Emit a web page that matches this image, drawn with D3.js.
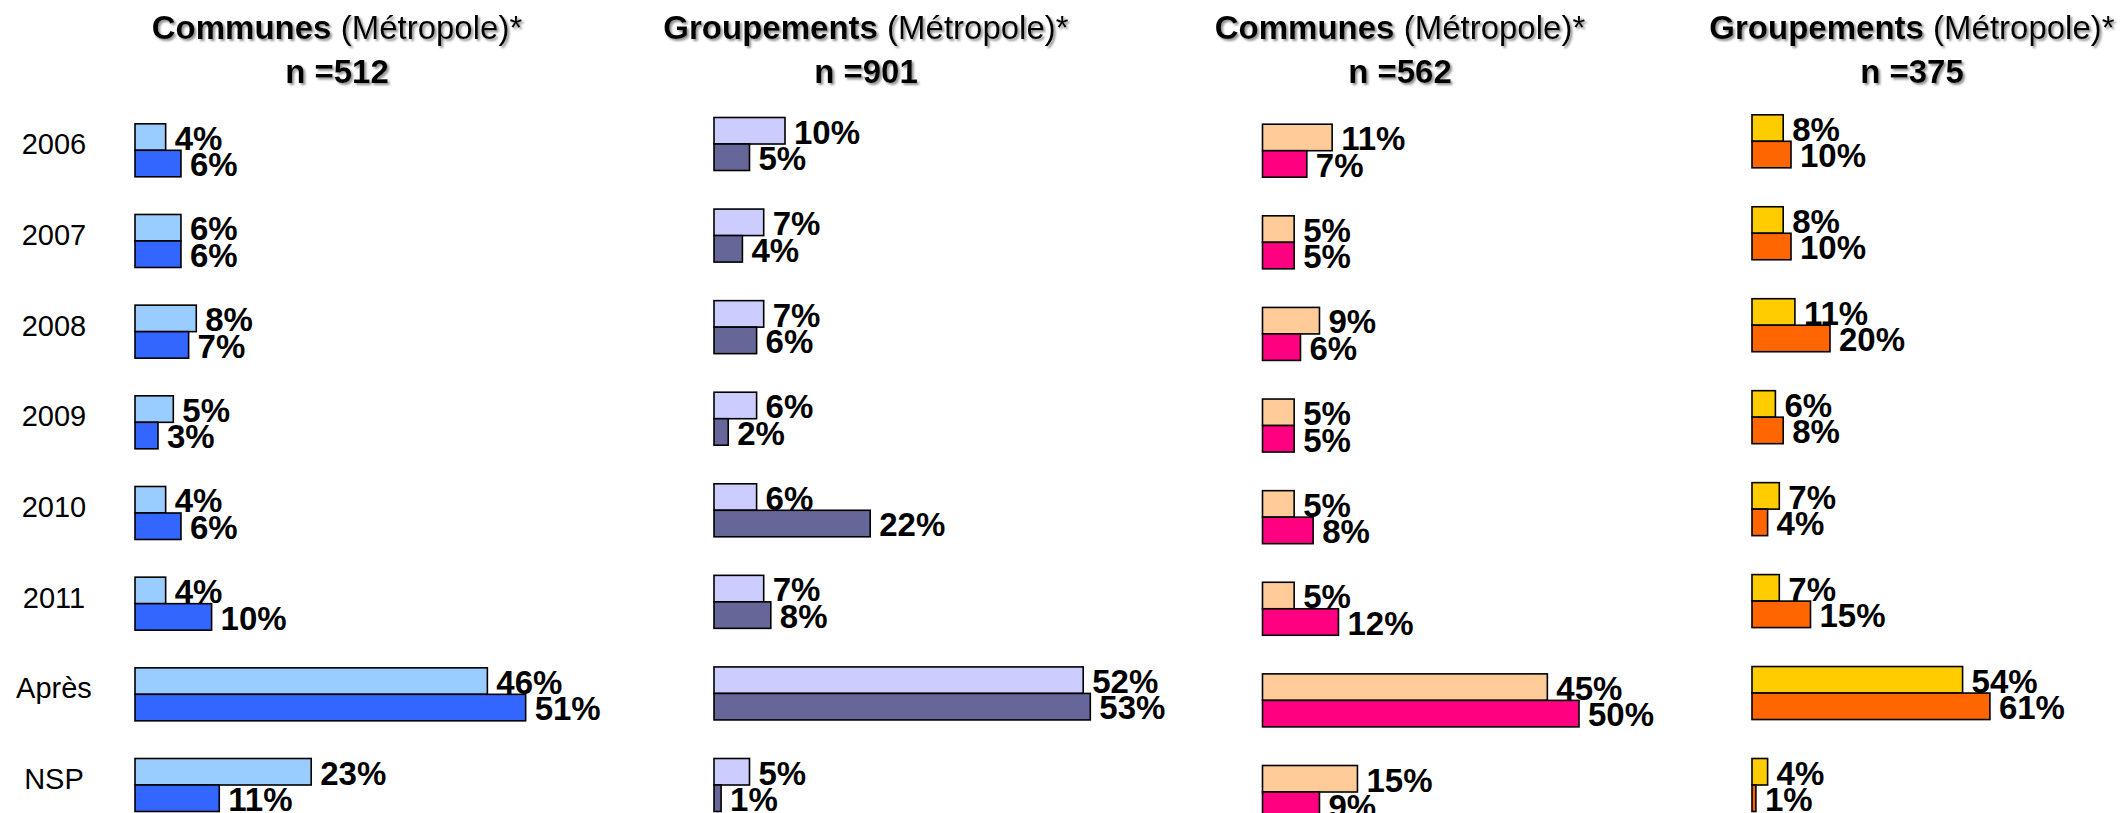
<!DOCTYPE html>
<html>
<head>
<meta charset="utf-8">
<script src="https://cdn.jsdelivr.net/npm/d3@7"></script>
<style>
	body { margin: 0; background: #fff; }
	text { font-family: "Liberation Sans", Arial, sans-serif; }
</style>
</head>
<body>
<svg id="chart"></svg>
<script>
var categories = ["2006", "2007", "2008", "2009", "2010", "2011", "Après", "NSP"];

var titles = ["Communes", "Groupements", "Communes", "Groupements"];
var titleSuffix = " (Métropole)*";
var sizes = [512, 901, 562, 375];

var communes512Light = [4, 6, 8, 5, 4, 4, 46, 23];
var communes512Dark = [6, 6, 7, 3, 6, 10, 51, 11];
var groupements901Light = [10, 7, 7, 6, 6, 7, 52, 5];
var groupements901Dark = [5, 4, 6, 2, 22, 8, 53, 1];
var communes562Light = [11, 5, 9, 5, 5, 5, 45, 15];
var communes562Dark = [7, 5, 6, 5, 8, 12, 50, 9];
var groupements375Light = [8, 8, 11, 6, 7, 7, 54, 4];
var groupements375Dark = [10, 10, 20, 8, 4, 15, 61, 1];

var width = 2126;
var height = 813;
var barH = 26.5;

// layout of each panel: left edge of bars, px for 100%, first/last row centre, title centre
var panels = [
	{ light: communes512Light, dark: communes512Dark, left: 135, w100: 766, top: 150.3, bottom: 785, tx: 337, c1: "#99ccff", c2: "#3366ff" },
	{ light: groupements901Light, dark: groupements901Dark, left: 714, w100: 710, top: 144, bottom: 785, tx: 866, c1: "#ccccff", c2: "#666699" },
	{ light: communes562Light, dark: communes562Dark, left: 1262.5, w100: 633, top: 150.7, bottom: 792, tx: 1400, c1: "#ffcc99", c2: "#ff0080" },
	{ light: groupements375Light, dark: groupements375Dark, left: 1752, w100: 390, top: 141.3, bottom: 785, tx: 1912, c1: "#ffcc00", c2: "#ff6600" }
];

var svg = d3.select("#chart")
	.attr("width", width)
	.attr("height", height);

var defs = svg.append("defs");
defs.append("filter")
	.attr("id", "shadow")
	.attr("x", "-5%").attr("y", "-20%")
	.attr("width", "110%").attr("height", "150%")
	.append("feDropShadow")
	.attr("dx", 2)
	.attr("dy", 2)
	.attr("stdDeviation", 1)
	.attr("flood-color", "#777")
	.attr("flood-opacity", 0.8);

// category labels on the left
var yLeft = d3.scalePoint()
	.domain(categories)
	.range([panels[0].top, panels[0].bottom]);

svg.selectAll("text.cat")
	.data(categories)
	.enter()
	.append("text")
	.attr("class", "cat")
	.attr("x", 54)
	.attr("y", function (d) {
		return yLeft(d) + 4;
	})
	.attr("text-anchor", "middle")
	.attr("font-size", 29)
	.text(function (d) { return d; });

panels.forEach(function (p, i) {
	var xScale = d3.scaleLinear()
		.domain([0, 100])
		.range([p.left, p.left + p.w100]);
	var yScale = d3.scalePoint()
		.domain(categories)
		.range([p.top, p.bottom]);

	var g = svg.append("g");

	// title
	var t = g.append("text")
		.attr("x", p.tx)
		.attr("y", 39)
		.attr("text-anchor", "middle")
		.attr("font-size", 33)
		.attr("filter", "url(#shadow)");
	t.append("tspan")
		.attr("font-weight", "bold")
		.text(titles[i]);
	t.append("tspan")
		.text(titleSuffix);
	g.append("text")
		.attr("x", p.tx)
		.attr("y", 83)
		.attr("text-anchor", "middle")
		.attr("font-size", 33)
		.attr("font-weight", "bold")
		.attr("filter", "url(#shadow)")
		.text("n =" + sizes[i]);

	var rows = categories.map(function (c, j) {
		return { cat: c, light: p.light[j], dark: p.dark[j] };
	});

	// light bars (upper)
	g.selectAll("rect.light")
		.data(rows)
		.enter()
		.append("rect")
		.attr("class", "light")
		.attr("x", xScale(0))
		.attr("y", function (d) { return yScale(d.cat) - barH; })
		.attr("width", function (d) { return xScale(d.light) - xScale(0); })
		.attr("height", barH)
		.attr("fill", p.c1)
		.attr("stroke", "#000")
		.attr("stroke-width", 1.6);

	// dark bars (lower)
	g.selectAll("rect.dark")
		.data(rows)
		.enter()
		.append("rect")
		.attr("class", "dark")
		.attr("x", xScale(0))
		.attr("y", function (d) { return yScale(d.cat); })
		.attr("width", function (d) { return xScale(d.dark) - xScale(0); })
		.attr("height", barH)
		.attr("fill", p.c2)
		.attr("stroke", "#000")
		.attr("stroke-width", 1.6);

	g.selectAll("text.lightLab")
		.data(rows)
		.enter()
		.append("text")
		.attr("class", "lightLab")
		.attr("x", function (d) { return xScale(d.light) + 9; })
		.attr("y", function (d) { return yScale(d.cat) - 0.5; })
		.attr("font-size", 33)
		.attr("font-weight", "bold")
		.text(function (d) { return d.light + "%"; });

	g.selectAll("text.darkLab")
		.data(rows)
		.enter()
		.append("text")
		.attr("class", "darkLab")
		.attr("x", function (d) { return xScale(d.dark) + 9; })
		.attr("y", function (d) { return yScale(d.cat) + barH - 0.5; })
		.attr("font-size", 33)
		.attr("font-weight", "bold")
		.text(function (d) { return d.dark + "%"; });
});
</script>
</body>
</html>
